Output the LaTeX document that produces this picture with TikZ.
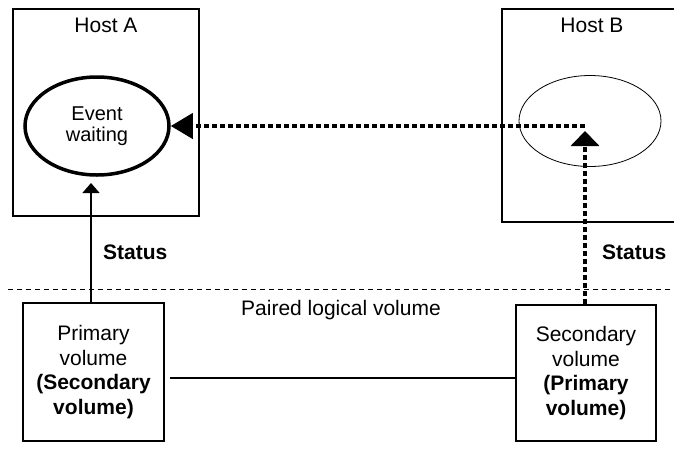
\documentclass[tikz,border=0pt]{standalone}
\usepackage{fontspec}
\setmainfont{Liberation Sans}
\usetikzlibrary{arrows.meta,shapes.geometric}
\begin{document}
\begin{tikzpicture}[x=1pt,y=-1pt,
  hostbox/.style={draw,line width=1.5pt},
  volbox/.style={draw,line width=1.5pt,minimum width=141pt,minimum height=138pt,inner sep=0pt,align=center,font=\fontsize{21}{24.5}\selectfont},
  lbl/.style={font=\fontsize{21}{24}\selectfont,inner sep=0pt},
  stat/.style={font=\fontsize{21}{24}\selectfont\bfseries,inner sep=0pt},
  dotline/.style={line width=4pt,dash pattern=on 5pt off 3pt},
  thinline/.style={line width=1.5pt},
  sepline/.style={line width=1pt,dash pattern=on 5pt off 4pt},
]
\useasboundingbox (0,0) rectangle (674,453);
% hosts
\draw[hostbox] (13,9) rectangle (199,216);
\draw[hostbox] (502,9) rectangle (690,222);
\node[lbl,anchor=base] (hA) at (106,32) {Host A};
\node[lbl,anchor=base] (hB) at (592,32) {Host B};
% ellipses
\node[ellipse,draw,line width=3.5pt,minimum width=144pt,minimum height=98pt,inner sep=0pt,align=center,font=\fontsize{20}{21}\selectfont] (evA) at (97,126) {Event\\waiting};
\node[ellipse,draw,line width=0.8pt,minimum width=142pt,minimum height=91pt,inner sep=0pt] (evB) at (590,121) {};
% volumes
\node[volbox] (prim) at (93.5,372) {Primary\\volume\\\textbf{(Secondary}\\\textbf{volume)}};
\node[volbox,minimum width=140pt,minimum height=136pt] (sec) at (586,373) {Secondary\\volume\\\textbf{(Primary}\\\textbf{volume)}};
% separator
\coordinate (sepL) at (8,289);
\coordinate (sepR) at (674,289);
\draw[sepline] (sepL) -- (sepR);
\node[lbl,anchor=base west] (paired) at (241,315) {Paired logical volume};
\node[stat,anchor=base west] (stA) at (103,259) {Status};
\node[stat,anchor=base west] (stB) at (602,259) {Status};
% connectors
\coordinate (aTip) at (91,183);
\coordinate (bTip) at (585,131);
\coordinate (bTurn) at (585,126);
\coordinate (link) at (0,378);
\draw[thinline,-{Triangle[length=10pt,width=17pt]}] (prim.north -| aTip) -- (aTip);
\draw[dotline,-{Triangle[length=15pt,width=28pt]}] (sec.north -| bTip) -- (bTip);
\draw[dotline,-{Triangle[length=22pt,width=25pt]}] (bTurn) -- (evA.east);
\draw[thinline] ([xshift=5pt]prim.east |- link) -- (sec.west |- link);
\end{tikzpicture}
\end{document}
